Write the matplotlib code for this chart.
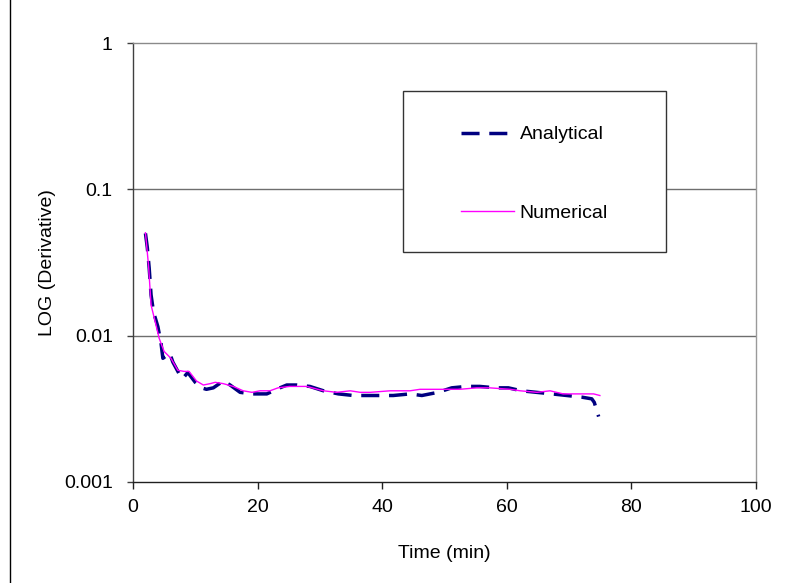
import matplotlib
matplotlib.use("Agg")
import matplotlib.pyplot as plt
from matplotlib.patches import Rectangle
from matplotlib.ticker import FixedLocator, FixedFormatter, NullLocator

plt.rcParams['font.family'] = ['Liberation Sans', 'DejaVu Sans']
plt.rcParams['lines.scale_dashes'] = False

# ---- data ----
t_analytical = [2.0, 2.3, 2.6, 2.9, 3.3, 4.0, 4.5, 4.8, 5.9, 6.4, 7.5, 8.0, 8.8, 10.0,
                11.0, 11.8, 12.9, 14.5, 15.6, 17.2, 19.1, 21.5, 23.6, 24.7, 26.3, 28.4,
                30.6, 33.0, 35.4, 37.3, 40.0, 41.8, 44.5, 46.4, 49.0, 51.2, 53.6, 55.7,
                58.2, 60.3, 62.4, 64.8, 67.3, 69.7, 72.1, 73.7, 74.1, 74.8]
v_analytical = [0.050, 0.040, 0.029, 0.019, 0.0145, 0.0115, 0.0089, 0.0070, 0.0076, 0.0066,
                0.0054, 0.0051, 0.0056, 0.0048, 0.0044, 0.0043, 0.0044, 0.0049, 0.0046,
                0.0041, 0.0040, 0.0040, 0.0044, 0.0046, 0.0046, 0.0045, 0.0042, 0.0040,
                0.0039, 0.0039, 0.0039, 0.0039, 0.0040, 0.0039, 0.0041, 0.0044, 0.0045,
                0.0045, 0.0044, 0.0044, 0.0042, 0.0041, 0.0040, 0.0039, 0.0038, 0.0037,
                0.0035, 0.0028]

t_numerical = [2.0, 2.5, 2.9, 3.7, 4.2, 5.0, 6.1, 7.2, 8.2, 9.0, 10.2, 11.3, 12.4, 13.2,
               14.5, 16.1, 17.7, 19.1, 20.4, 22.0, 23.3, 25.2, 27.9, 30.6, 32.7, 34.9,
               36.5, 38.1, 41.3, 44.5, 46.1, 49.3, 52.5, 55.2, 57.3, 60.6, 62.2, 64.9,
               67.0, 69.1, 71.8, 74.0, 75.0]
v_numerical = [0.0505, 0.030, 0.0162, 0.0118, 0.0096, 0.0078, 0.0070, 0.0058, 0.0057,
               0.0057, 0.0049, 0.0046, 0.0047, 0.0048, 0.0047, 0.0045, 0.0042, 0.0041,
               0.0042, 0.0042, 0.0044, 0.0045, 0.0045, 0.0042, 0.0041, 0.0042, 0.0041,
               0.0041, 0.0042, 0.0042, 0.0043, 0.0043, 0.0043, 0.0044, 0.0044, 0.0043,
               0.0042, 0.0041, 0.0042, 0.0040, 0.0040, 0.0040, 0.0039]

x_ticks = [0, 20, 40, 60, 80, 100]
y_ticks = [0.001, 0.01, 0.1, 1]
y_tick_labels = ['0.001', '0.01', '0.1', '1']

# ---- figure ----
W, H = 786, 583
fig = plt.figure(figsize=(W / 100, H / 100), dpi=100)
ax = fig.add_axes([133 / W, 1 - 482 / H, (755.5 - 133) / W, (482 - 43) / H])

ax.plot(t_analytical, v_analytical, color='#000080', lw=2.5, dashes=(13, 7),
        label='Analytical', zorder=3)
ax.plot(t_numerical, v_numerical, color='#FF00FF', lw=1.0, label='Numerical', zorder=4)

ax.set_yscale('log')
ax.set_xlim(0, 100)
ax.set_ylim(0.001, 1)
ax.xaxis.set_major_locator(FixedLocator(x_ticks))
ax.yaxis.set_major_locator(FixedLocator(y_ticks))
ax.yaxis.set_major_formatter(FixedFormatter(y_tick_labels))
ax.yaxis.set_minor_locator(NullLocator())
ax.xaxis.set_minor_locator(NullLocator())

for yv in [0.01, 0.1]:
    ax.axhline(yv, color='#6e6e6e', lw=1.0, zorder=1)

ax.spines['left'].set_color('#404040')
ax.spines['bottom'].set_color('#202020')
ax.spines['top'].set_color('#8a8a8a')
ax.spines['right'].set_color('#9a9a9a')
for s in ax.spines.values():
    s.set_linewidth(1.0)

ax.tick_params(axis='y', direction='out', length=4.5, width=1, color='#404040',
               pad=10, labelsize=14)
ax.tick_params(axis='x', direction='out', length=5, width=1, color='#202020',
               pad=7.5, labelsize=14)

ax.set_xlabel('Time (min)', fontsize=14)
ax.xaxis.set_label_coords(0.5, -0.143)
ax.set_ylabel('LOG (Derivative)', fontsize=14)
ax.yaxis.set_label_coords(-0.124, 0.5)

# legend box
box_x0 = (403 - 133) / 622.5
box_x1 = (666 - 133) / 622.5
box_y1 = (482 - 91) / 439
box_y0 = (482 - 252) / 439
ax.add_patch(Rectangle((box_x0, box_y0), box_x1 - box_x0, box_y1 - box_y0,
                       transform=ax.transAxes, facecolor='white', edgecolor='#333333',
                       lw=1.0, zorder=5))
leg = ax.legend(loc='center',
                bbox_to_anchor=((box_x0 + box_x1) / 2, (box_y0 + box_y1) / 2 - 2.5 / 439),
                frameon=False, fontsize=14, handlelength=2.7, handletextpad=0.3,
                labelspacing=3.15)
leg.set_zorder(6)

# outer chart border
fig.patches.append(Rectangle((9.5 / W, -0.2), 1.2, 1.2 + (1 - 8.5 / H),
                             transform=fig.transFigure, fill=False,
                             edgecolor='black', lw=1.0))

fig.savefig('out.png', dpi=100)
